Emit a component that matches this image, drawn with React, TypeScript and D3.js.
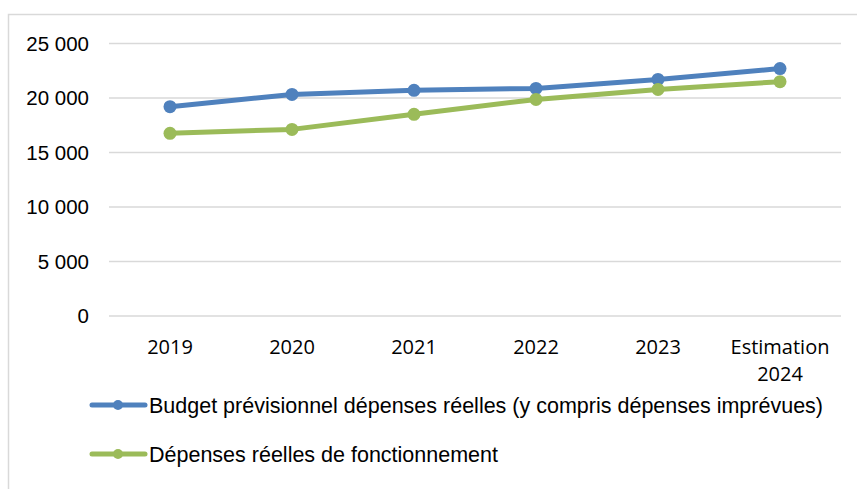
import React from "react";
import * as d3 from "d3";

const categories = ["2019", "2020", "2021", "2022", "2023", "Estimation\n2024"];
const budgetValues = [19200, 20330, 20700, 20880, 21700, 22700];
const depensesValues = [16760, 17120, 18500, 19870, 20790, 21500];
const yTicks = [0, 5000, 10000, 15000, 20000, 25000];
const seriesNames = [
  "Budget prévisionnel dépenses réelles (y compris dépenses imprévues)",
  "Dépenses réelles de fonctionnement",
];
const colors = ["#4f81bd", "#9bbb59"];

export default function App() {
  const W = 857, H = 489;
  const x = d3.scaleBand<number>().domain(d3.range(categories.length)).range([109, 841]);
  const y = d3.scaleLinear().domain([0, 25000]).range([316, 43.5]);
  const line = d3.line<number>().x((_, i) => (x(i) as number) + x.bandwidth() / 2).y((d) => y(d));
  const fmt = (v: number) => d3.format(",")(v).replace(/,/g, " ");
  const series = [budgetValues, depensesValues];
  const legendY = [405, 454];
  return (
    <svg width={W} height={H} style={{ position: "absolute", left: 0, top: 0 }}>
      <rect x={0} y={0} width={W} height={H} fill="#fff" />
      <rect x={8.5} y={14.5} width={W + 10} height={H + 10} fill="none" stroke="#d9d9d9" strokeWidth={1.5} />
      {yTicks.map((t) => (
        <g key={t}>
          <line x1={109} x2={841} y1={y(t)} y2={y(t)} stroke="#d9d9d9" strokeWidth={1.5} />
          <text x={89} y={y(t)} dy="0.36em" textAnchor="end" fontFamily="Liberation Sans, Arial, sans-serif" fontSize={20.5} fill="#000">
            {fmt(t)}
          </text>
        </g>
      ))}
      {categories.map((c, i) => (
        <text key={c} x={(x(i) as number) + x.bandwidth() / 2} y={354} textAnchor="middle" fontFamily="Open Sans, Noto Sans, sans-serif" fontSize={20} fill="#000">
          {c.split("\n").map((p, j) => (
            <tspan key={j} x={(x(i) as number) + x.bandwidth() / 2} dy={j === 0 ? 0 : 27}>{p}</tspan>
          ))}
        </text>
      ))}
      {series.map((s, k) => (
        <g key={k}>
          <path d={line(s) as string} fill="none" stroke={colors[k]} strokeWidth={5} strokeLinejoin="round" />
          {s.map((v, i) => (
            <circle key={i} cx={(x(i) as number) + x.bandwidth() / 2} cy={y(v)} r={6.5} fill={colors[k]} />
          ))}
        </g>
      ))}
      {seriesNames.map((n, k) => (
        <g key={n}>
          <line x1={92} x2={145} y1={legendY[k]} y2={legendY[k]} stroke={colors[k]} strokeWidth={5} strokeLinecap="round" />
          <circle cx={118} cy={legendY[k]} r={5} fill={colors[k]} />
          <text x={149} y={legendY[k]} dy="0.36em" fontFamily="Liberation Sans, Arial, sans-serif" fontSize={21.5} fill="#000">{n}</text>
        </g>
      ))}
    </svg>
  );
}
